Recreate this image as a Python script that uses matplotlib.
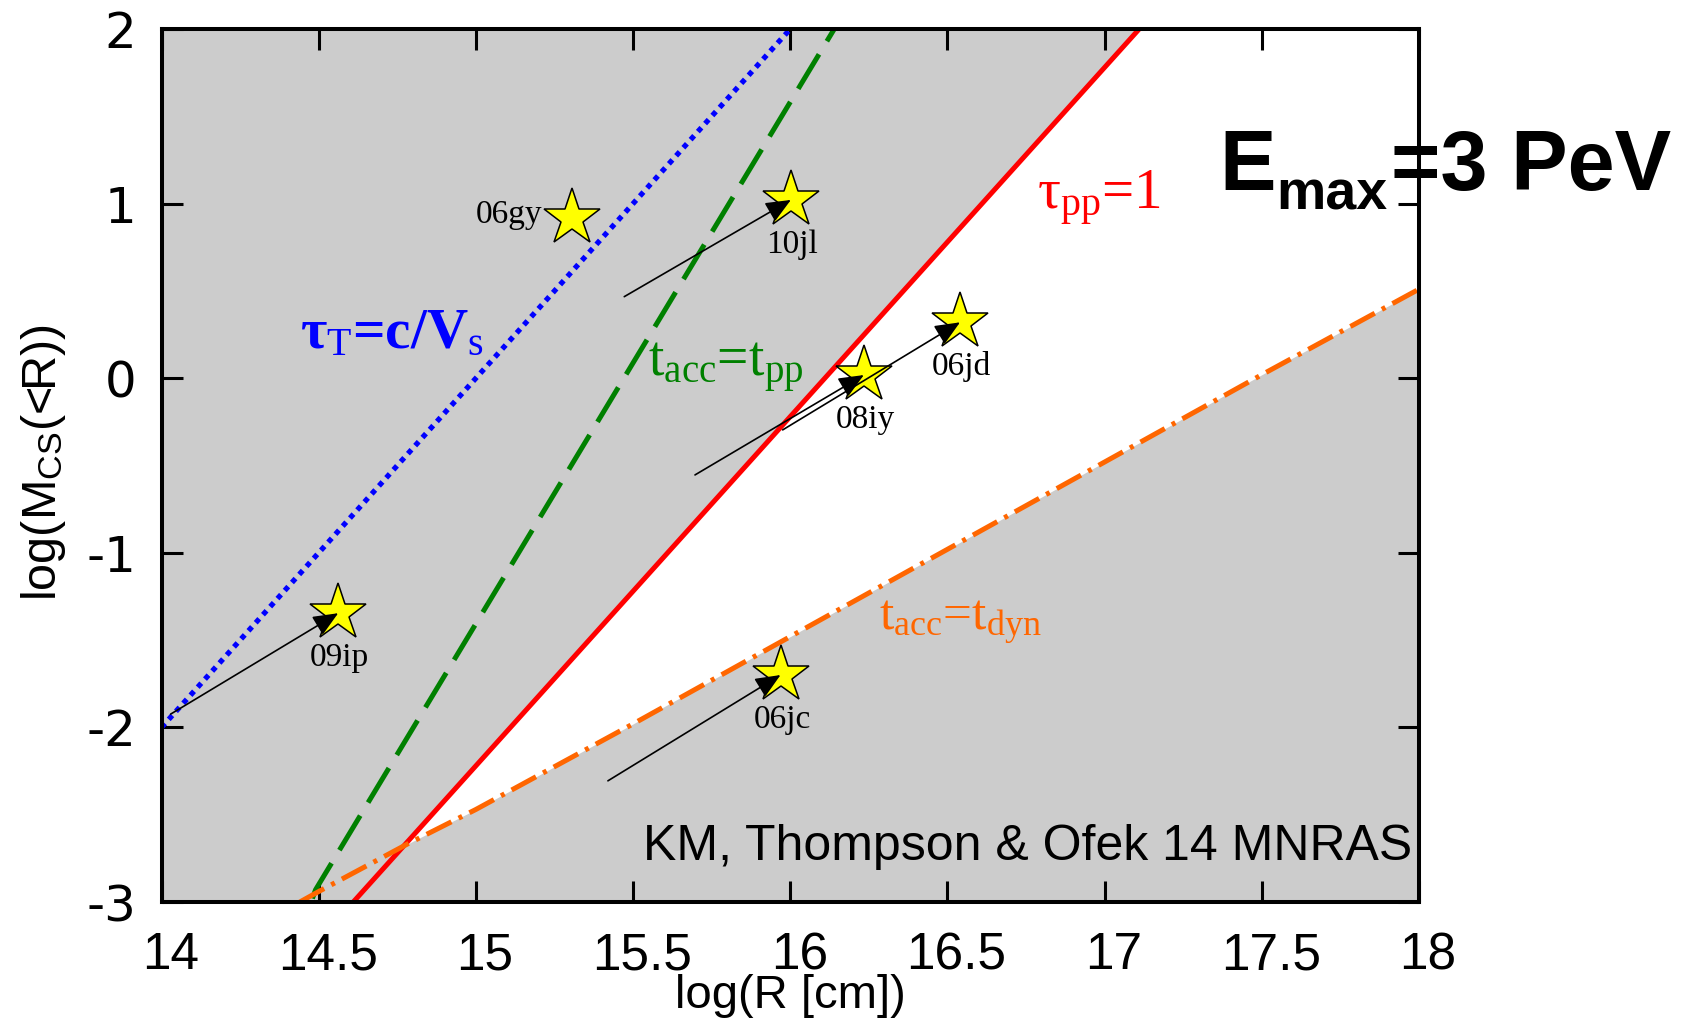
import numpy as np
import matplotlib
matplotlib.use("Agg")
import matplotlib.pyplot as plt
from matplotlib.transforms import ScaledTranslation

plt.rcParams['mathtext.fontset'] = 'custom'
plt.rcParams['mathtext.rm'] = 'Liberation Serif'
plt.rcParams['mathtext.it'] = 'Liberation Serif:italic'
plt.rcParams['mathtext.bf'] = 'Liberation Serif:bold'
plt.rcParams['mathtext.sf'] = 'Liberation Sans'
plt.rcParams['axes.unicode_minus'] = False
plt.rcParams['lines.scale_dashes'] = False

# limit curves in the log R - log M plane
thomson_x = [14.0, 16.0]
thomson_y = [-2.0, 2.0]
acc_pp_x = [14.48, 14.49, 16.14]
acc_pp_y = [-2.98, -2.93, 2.0]
tau_pp_x = [14.61, 17.11]
tau_pp_y = [-3.0, 2.0]
acc_dyn_x = [14.44, 14.50, 14.78, 15.0, 15.5, 16.0, 16.5, 17.0, 17.5, 18.0]
acc_dyn_y = [-3.0, -2.94, -2.67, -2.47, -1.98, -1.48, -0.98, -0.48, 0.02, 0.51]

# supernovae (star) and where their arrows start (None = no arrow)
sn_names = ['06gy', '10jl', '08iy', '06jd', '09ip', '06jc']
sn_x = [15.306, 16.002, 16.234, 16.54, 14.562, 15.969]
sn_y = [0.92, 1.021, 0.018, 0.32, -1.346, -1.70]
tail_x = [None, 15.472, 15.697, 15.976, 14.029, 15.42]
tail_y = [None, 0.467, -0.554, -0.296, -1.924, -2.306]

x_ticks = [14, 14.5, 15, 15.5, 16, 16.5, 17, 17.5, 18]
x_ticklabels = ['14', '14.5', '15', '15.5', '16', '16.5', '17', '17.5', '18']
y_ticks = [-3, -2, -1, 0, 1, 2]
y_ticklabels = ['-3', '-2', '-1', '0', '1', '2']

W, H = 1688, 1019
fig = plt.figure(figsize=(W/100, H/100), dpi=100)
ax = fig.add_axes([161.5/W, 1-902/H, (1419-161.5)/W, 873/H])
ax.set_xlim(14, 18)
ax.set_ylim(-3, 2)
ax.set_facecolor('#cccccc')

# allowed (white) wedge between tau_pp=1 and t_acc=t_dyn
xs = np.union1d(acc_dyn_x, tau_pp_x)
lo = np.interp(xs, acc_dyn_x, acc_dyn_y)
hi = np.interp(xs, tau_pp_x, tau_pp_y)
ax.fill_between(xs, lo, hi, where=hi > lo, interpolate=True, color='white', lw=0, zorder=1)

ax.plot(thomson_x, thomson_y, color='#0000ff', lw=3.8, dashes=(3.8, 4.0), dash_capstyle='butt', zorder=2)
ax.plot(acc_pp_x, acc_pp_y, color='#008000', lw=3.6, dashes=(29, 11), dash_capstyle='butt', zorder=2)
ax.plot(tau_pp_x, tau_pp_y, color='#ff0000', lw=3.6, zorder=2)
ax.plot(acc_dyn_x, acc_dyn_y, color='#ff6600', lw=3.6, dashes=(20, 5.8, 2.9, 5.8), dash_capstyle='butt', zorder=2)

ax.plot(sn_x, sn_y, ls='none', marker='*', ms=43, mfc='#ffff00', mec='black', mew=1.1, zorder=4)
for i in range(len(sn_names)):
    if tail_x[i] is not None:
        ax.annotate('', xy=(sn_x[i], sn_y[i]), xytext=(tail_x[i], tail_y[i]),
                    arrowprops=dict(arrowstyle='-|>,head_length=0.7,head_width=0.3', lw=1.2,
                                    color='black', shrinkA=0, shrinkB=0, mutation_scale=22),
                    zorder=5)
    if i == 0:
        ax.annotate(sn_names[i], (sn_x[i], sn_y[i]), xytext=(-21.5, -3.6), textcoords='offset points',
                    ha='right', va='baseline', fontsize=24, family='Liberation Serif', zorder=6)
    else:
        ax.annotate(sn_names[i], (sn_x[i], sn_y[i]), xytext=(1, -38), textcoords='offset points',
                    ha='center', va='baseline', fontsize=24, family='Liberation Serif', zorder=6)

serif = 'Liberation Serif'
ax.text(14.44, 0.174, r'τ$_{\mathrm{T}}$=c/V$_{\mathrm{s}}$', color='#0000ff', fontsize=41,
        family=serif, fontweight='bold', va='baseline', zorder=6)
ax.text(15.547, 0.013, r't$_{\mathrm{acc}}$=t$_{\mathrm{pp}}$', color='#008000', fontsize=40,
        family=serif, va='baseline', zorder=6)
ax.text(16.784, 0.969, r'τ$_{\mathrm{pp}}$=1', color='#ff0000', fontsize=41,
        family=serif, va='baseline', zorder=6)
ax.text(16.283, -1.44, r't$_{\mathrm{acc}}$=t$_{\mathrm{dyn}}$', color='#ff6600', fontsize=37,
        family=serif, va='baseline', zorder=6)

ax.text(0.9944, 0.0481, 'KM, Thompson & Ofek 14 MNRAS', transform=ax.transAxes, ha='right',
        va='baseline', fontsize=36, family='Liberation Sans', zorder=6)

# ticks
ax.set_xticks(x_ticks)
ax.set_xticklabels(x_ticklabels, fontsize=37, family='Liberation Sans')
ax.set_yticks(y_ticks)
ax.set_yticklabels(y_ticklabels, fontsize=36, family='DejaVu Sans')
ax.tick_params(direction='in', length=15, width=2.2, top=True, right=True)
ax.tick_params(axis='x', pad=21)
ax.tick_params(axis='y', pad=18)
for s in ax.spines.values():
    s.set_linewidth(2.9)
    s.set_zorder(7)

fig.canvas.draw()
for lab in ax.get_xticklabels():
    lab.set_transform(lab.get_transform() + ScaledTranslation(0.09, 0, fig.dpi_scale_trans))

# axis titles
fig.text(790/W, 1-1008/H, 'log(R [cm])', ha='center', va='baseline', fontsize=34, family='Liberation Sans')
fig.text(43/W, 1-463/H, r'log(M$_{\mathsf{CS}}$(<R))', rotation=90, ha='center', va='center',
         fontsize=35, family='Liberation Sans')

# E_max label
fig.text(1219/W, 1-190/H, 'E', fontsize=61, family='Liberation Sans', fontweight='bold', va='baseline')
fig.text(1276/W, 1-209/H, 'max', fontsize=40, family='Liberation Sans', fontweight='bold', va='baseline')
fig.text(1391/W, 1-190/H, '=3 PeV', fontsize=61, family='Liberation Sans', fontweight='bold', va='baseline')

fig.savefig('out.png', dpi=100)
